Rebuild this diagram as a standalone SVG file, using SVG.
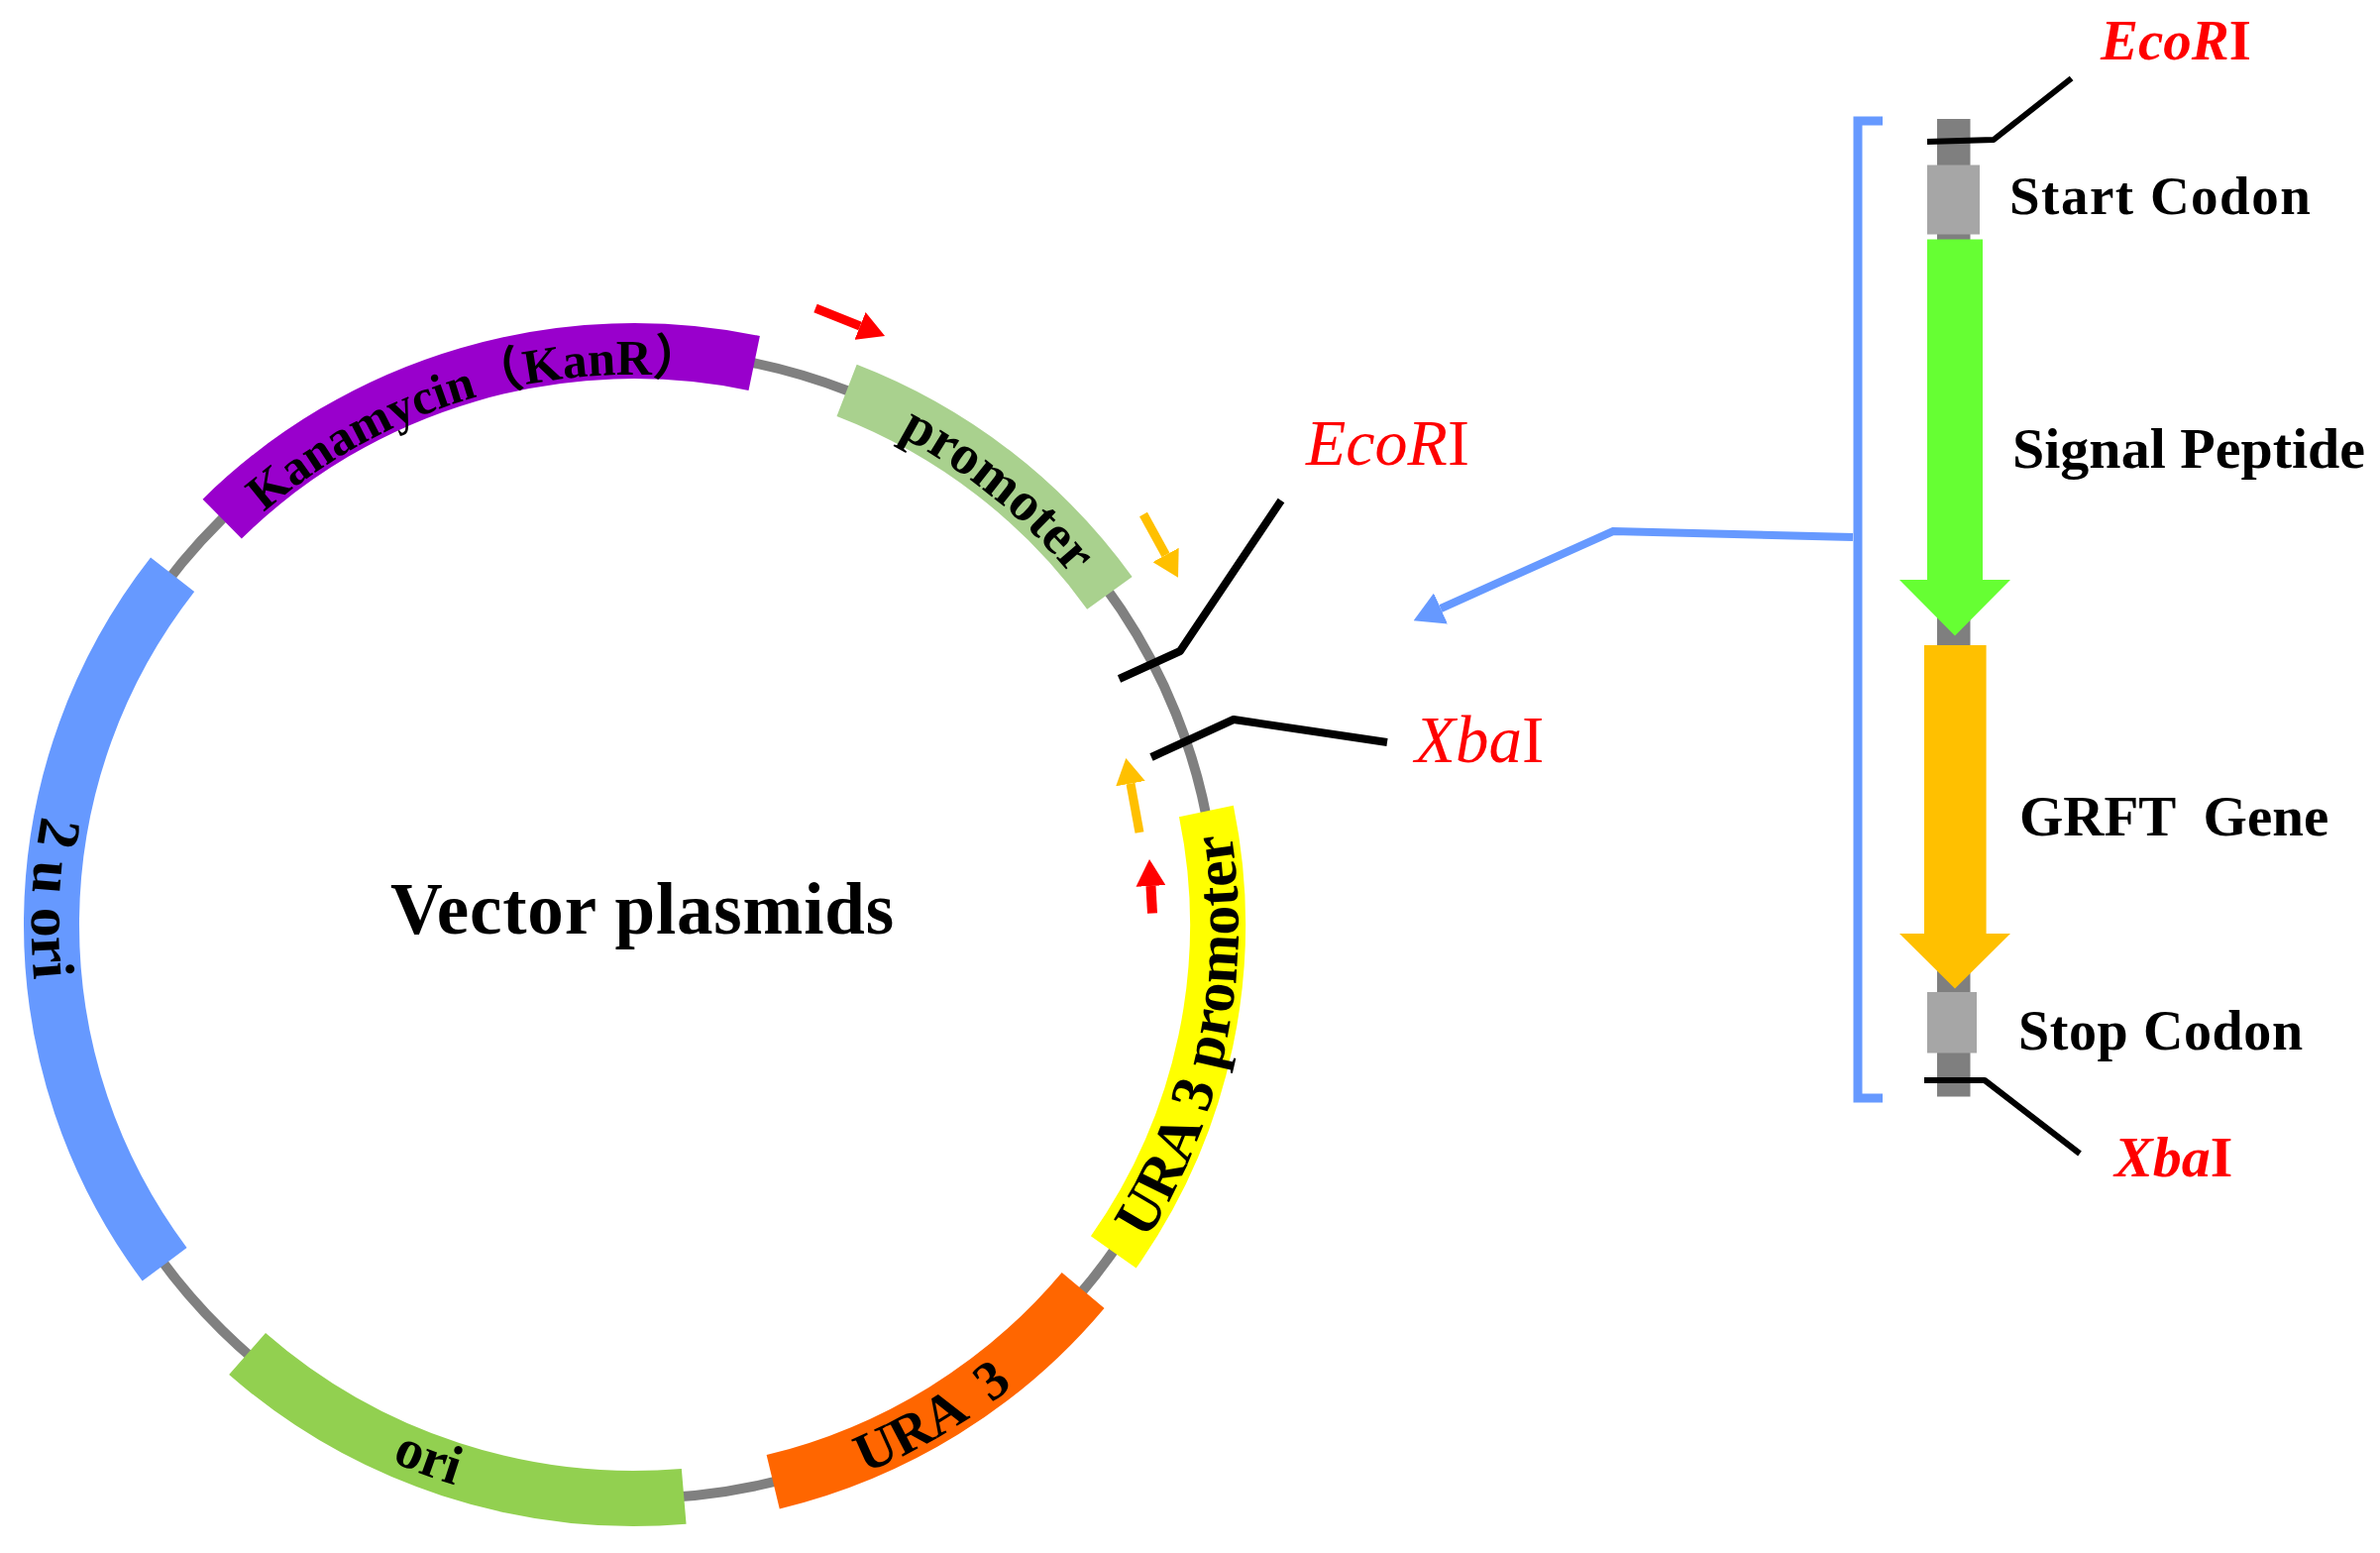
<svg xmlns="http://www.w3.org/2000/svg" width="2402" height="1567" viewBox="0 0 2402 1567">
<style>
text{font-family:"Liberation Serif","Noto Sans CJK SC",serif;fill:#000}
.b{font-weight:700}
.band{fill:none;stroke-width:56}
.lab{font-weight:700;font-size:56px}
.red{fill:#f00}
.blk{fill:none;stroke:#000;stroke-width:8;stroke-linejoin:round}
.thin{stroke-width:6}
.dark{fill:#7f7f7f}.light{fill:#a6a6a6}
</style>
<defs>
<marker id="hr" markerUnits="userSpaceOnUse" markerWidth="27" markerHeight="30" refX="0" refY="15" orient="auto"><polygon points="0,0 27,15 0,30" fill="#f00"/></marker>
<marker id="ho" markerUnits="userSpaceOnUse" markerWidth="26" markerHeight="30" refX="0" refY="15" orient="auto"><polygon points="0,0 26,15 0,30" fill="#ffc000"/></marker>
<marker id="hb" markerUnits="userSpaceOnUse" markerWidth="30" markerHeight="34" refX="0" refY="17" orient="auto"><polygon points="0,0 30,17 0,34" fill="#6699ff"/></marker>
<path id="tKan" d="M266.300 517A564 555 0 0 1 689 380"/>
<path id="tProm" d="M906.700 439.400A568 559 0 0 1 1093.800 596.500"/>
<path id="tYel" d="M1157 1251.500A610 601 0 0 0 1229 777.500"/>
<path id="tUra" d="M872.700 1486.400A608 599 0 0 0 1047 1378"/>
<path id="tOri" d="M395 1474.700A602 593 0 0 0 535.500 1517"/>
<path id="t2u" d="M42.300 823A608 599 0 0 0 41 1037"/>
</defs>
<rect width="2402" height="1567" fill="#fff"/>

<g id="plasmid-backbone"><ellipse cx="640" cy="933" rx="588" ry="579" fill="none" stroke="#808080" stroke-width="10"/></g>

<g id="kanr"><path class="band" stroke="#9900cc" d="M224.200 523.600A588 579 0 0 1 761.200 366.500"/><text class="b" font-size="50"><textPath href="#tKan">Kanamycin（KanR）</textPath></text></g>
<g id="promoter"><path class="band" stroke="#a9d18e" d="M854.600 393.900A588 579 0 0 1 1119.900 598.400"/><text class="lab"><textPath href="#tProm">promoter</textPath></text></g>
<g id="ura3-promoter"><path class="band" stroke="#ffff00" d="M1217.400 818.500A589 579 0 0 1 1123.800 1263.400"/><text class="b" font-size="60"><textPath href="#tYel">URA 3 promoter</textPath></text></g>
<g id="ura3"><path class="band" stroke="#ff6600" d="M1093.100 1302A588 579 0 0 1 780.200 1495.300"/><text class="lab" word-spacing="14"><textPath href="#tUra">URA 3</textPath></text></g>
<g id="ori"><path class="band" stroke="#92d050" d="M690.200 1509.900A588 579 0 0 1 249.600 1366"/><text class="lab"><textPath href="#tOri">ori</textPath></text></g>
<g id="two-u-ori"><path class="band" stroke="#6699ff" d="M166.100 1275.800A588 579 0 0 1 174.100 579.800"/><text class="b" font-size="60"><textPath href="#t2u">2 u ori</textPath></text></g>
<g id="vector-label"><text class="b" x="394" y="942" font-size="73" letter-spacing="0.8">Vector plasmids</text></g>

<g id="cassette-backbone">
<rect class="dark" x="1955" y="120" width="33.500" height="125"/>
<rect class="dark" x="1955" y="620" width="33.500" height="36"/>
<rect class="dark" x="1955" y="975" width="33.500" height="131.500"/>
</g>
<g id="start-codon"><rect class="light" x="1945" y="166.500" width="53" height="70"/><text class="b" x="2028" y="216" font-size="55" letter-spacing="1.5">Start Codon</text></g>
<g id="signal-peptide"><polygon fill="#66ff33" points="1945,241.500 2001,241.500 2001,585 2029,585 1973,641.500 1917,585 1945,585"/><text class="b" x="2031" y="472" font-size="58">Signal Peptide</text></g>
<g id="grft-gene"><polygon fill="#ffc000" points="1942,651 2004.600,651 2004.600,942 2029,942 1973,997.500 1917,942 1942,942"/><text class="b" x="2038" y="843" font-size="57" word-spacing="14">GRFT Gene</text></g>
<g id="stop-codon"><rect class="light" x="1945" y="1001" width="50" height="61.500"/><text class="b" x="2037" y="1059" font-size="56" letter-spacing="0.6">Stop Codon</text></g>

<g id="site-labels">
<text class="red" x="1318" y="469" font-size="66"><tspan font-style="italic">EcoR</tspan>I</text>
<text class="red" x="1428" y="769" font-size="67"><tspan font-style="italic">Xba</tspan>I</text>
<text class="red b" x="2120" y="60" font-size="57"><tspan font-style="italic">EcoR</tspan>I</text>
<text class="red b" x="2134" y="1187" font-size="58"><tspan font-style="italic">Xba</tspan>I</text>
</g>

<g id="connectors">
<polyline class="blk" points="1129.500,685 1191,657 1293,505"/>
<polyline class="blk" points="1162,764 1245,726 1400,749"/>
<polyline class="blk thin" points="1945,143 2012,141 2090.600,79"/>
<polyline class="blk thin" points="1942,1090 2003,1090 2099,1164"/>
<polyline fill="none" stroke="#6699ff" stroke-width="9" points="1900,122 1875,122 1875,1108 1900,1108"/>
<polyline fill="none" stroke="#6699ff" stroke-width="8" points="1870,542 1628,536 1454,614" marker-end="url(#hb)"/>
<line x1="823" y1="311" x2="868" y2="329" stroke="#f00" stroke-width="9" marker-end="url(#hr)"/>
<line x1="1163" y1="921.500" x2="1161.500" y2="894" stroke="#f00" stroke-width="10" marker-end="url(#hr)"/>
<line x1="1154" y1="519" x2="1176.500" y2="560" stroke="#ffc000" stroke-width="9" marker-end="url(#ho)"/>
<line x1="1150" y1="840" x2="1141" y2="790.600" stroke="#ffc000" stroke-width="9" marker-end="url(#ho)"/>
</g>
</svg>
